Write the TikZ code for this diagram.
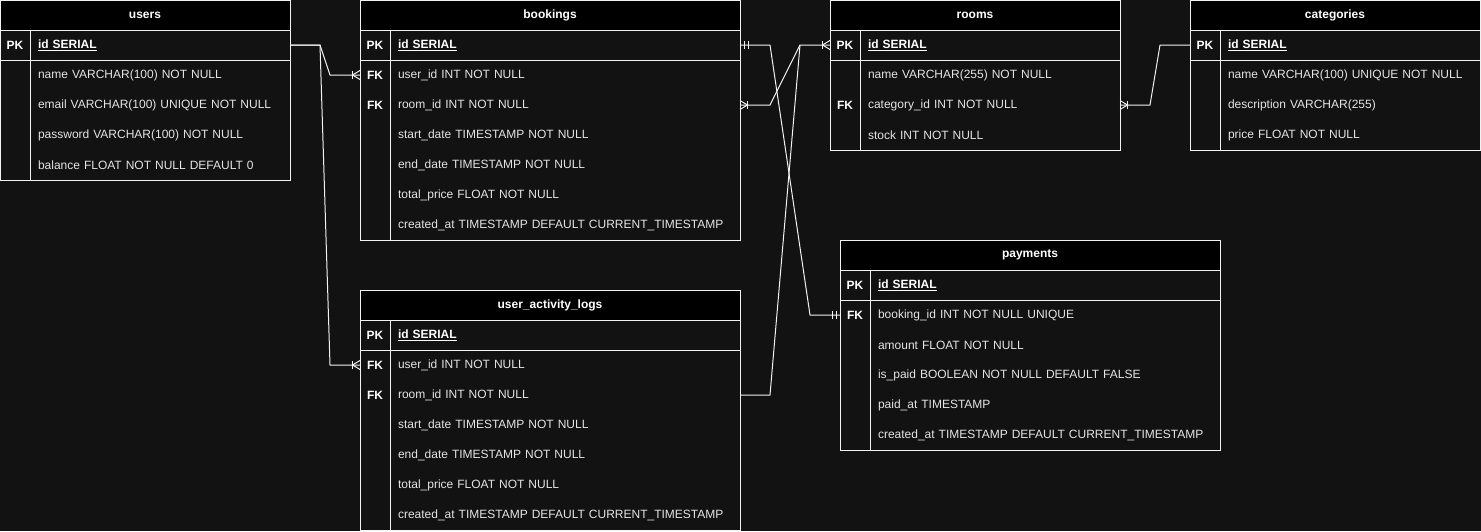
\documentclass[tikz,border=0pt]{standalone}
\usepackage{fontspec}
\setmainfont{Liberation Sans}
\usetikzlibrary{positioning}
\definecolor{erBack}{HTML}{121212}
\definecolor{erHead}{HTML}{000000}
\definecolor{erLine}{HTML}{F2F2F2}
\definecolor{erText}{HTML}{E4E4E4}
\tikzset{
  every picture/.style={font=\fontsize{12pt}{14pt}\selectfont, text=erText},
  er head/.style={fill=erHead, text=white, font=\fontsize{12pt}{14pt}\selectfont\bfseries,
    minimum height=30pt, inner sep=0pt, outer sep=0pt},
  er field/.style={minimum height=30pt, inner xsep=8pt, inner ysep=0pt, outer sep=0pt, align=left},
  er narrow/.style={er field, text width=244pt},
  er wide/.style={er field, text width=334pt},
  er key/.style={minimum width=30pt, minimum height=30pt, inner sep=0pt, outer sep=0pt,
    text=white, font=\fontsize{12pt}{14pt}\selectfont\bfseries},
  er frame/.style={draw=erLine, line width=1pt},
  er link/.style={draw=erLine, line width=1pt},
  crow/.pic={
    \draw[er link] (-7.5,-4) -- (-7.5,4);
    \draw[er link] (0,-4.5) -- (-7.5,0) -- (0,4.5);
  },
  one/.pic={
    \draw[er link] (-4,-4) -- (-4,4) (-8,-4) -- (-8,4);
  }
}
\newcommand{\pkey}[1]{\textcolor{white}{\bfseries\underline{#1}}}

\begin{document}
\begin{tikzpicture}[x=1pt,y=-1pt]
  \fill[erBack] (0,0) rectangle (1481,531);
  \useasboundingbox (0,0) rectangle (1481,531);

  % users
  \node[er head, minimum width=290pt] (users) at (145,15) {users};
  \node[er narrow, below right=0pt and 30pt of users.south west] (users-id) {\pkey{id SERIAL}};
  \node[er narrow, below=0pt of users-id] (users-name) {name VARCHAR(100) NOT NULL};
  \node[er narrow, below=0pt of users-name] (users-email) {email VARCHAR(100) UNIQUE NOT NULL};
  \node[er narrow, below=0pt of users-email] (users-password) {password VARCHAR(100) NOT NULL};
  \node[er narrow, below=0pt of users-password] (users-balance) {balance FLOAT NOT NULL DEFAULT 0};
  \node[er key, left=0pt of users-id] (users-pk) {PK};
  \draw[er frame] (users.north west) rectangle (users-balance.south east);
  \draw[er frame] (users.south west) -- (users.south east);
  \draw[er frame] (users-pk.south west) -- (users-id.south east);
  \draw[er frame] (users-id.north west) -- (users-balance.south west);

  % bookings
  \node[er head, minimum width=380pt] (bookings) at (550,15) {bookings};
  \node[er wide, below right=0pt and 30pt of bookings.south west] (bookings-id) {\pkey{id SERIAL}};
  \node[er wide, below=0pt of bookings-id] (bookings-userid) {user\_id INT NOT NULL};
  \node[er wide, below=0pt of bookings-userid] (bookings-roomid) {room\_id INT NOT NULL};
  \node[er wide, below=0pt of bookings-roomid] (bookings-start) {start\_date TIMESTAMP NOT NULL};
  \node[er wide, below=0pt of bookings-start] (bookings-end) {end\_date TIMESTAMP NOT NULL};
  \node[er wide, below=0pt of bookings-end] (bookings-total) {total\_price FLOAT NOT NULL};
  \node[er wide, below=0pt of bookings-total] (bookings-created) {created\_at TIMESTAMP DEFAULT CURRENT\_TIMESTAMP};
  \node[er key, left=0pt of bookings-id] (bookings-pk) {PK};
  \node[er key, left=0pt of bookings-userid] {FK};
  \node[er key, left=0pt of bookings-roomid] {FK};
  \draw[er frame] (bookings.north west) rectangle (bookings-created.south east);
  \draw[er frame] (bookings.south west) -- (bookings.south east);
  \draw[er frame] (bookings-pk.south west) -- (bookings-id.south east);
  \draw[er frame] (bookings-id.north west) -- (bookings-created.south west);

  % rooms
  \node[er head, minimum width=290pt] (rooms) at (975,15) {rooms};
  \node[er narrow, below right=0pt and 30pt of rooms.south west] (rooms-id) {\pkey{id SERIAL}};
  \node[er narrow, below=0pt of rooms-id] (rooms-name) {name VARCHAR(255) NOT NULL};
  \node[er narrow, below=0pt of rooms-name] (rooms-categoryid) {category\_id INT NOT NULL};
  \node[er narrow, below=0pt of rooms-categoryid] (rooms-stock) {stock INT NOT NULL};
  \node[er key, left=0pt of rooms-id] (rooms-pk) {PK};
  \node[er key, left=0pt of rooms-categoryid] {FK};
  \draw[er frame] (rooms.north west) rectangle (rooms-stock.south east);
  \draw[er frame] (rooms.south west) -- (rooms.south east);
  \draw[er frame] (rooms-pk.south west) -- (rooms-id.south east);
  \draw[er frame] (rooms-id.north west) -- (rooms-stock.south west);

  % categories
  \node[er head, minimum width=290pt] (categories) at (1335,15) {categories};
  \node[er narrow, below right=0pt and 30pt of categories.south west] (categories-id) {\pkey{id SERIAL}};
  \node[er narrow, below=0pt of categories-id] (categories-name) {name VARCHAR(100) UNIQUE NOT NULL};
  \node[er narrow, below=0pt of categories-name] (categories-desc) {description VARCHAR(255)};
  \node[er narrow, below=0pt of categories-desc] (categories-price) {price FLOAT NOT NULL};
  \node[er key, left=0pt of categories-id] (categories-pk) {PK};
  \draw[er frame] (categories.north west) rectangle (categories-price.south east);
  \draw[er frame] (categories.south west) -- (categories.south east);
  \draw[er frame] (categories-pk.south west) -- (categories-id.south east);
  \draw[er frame] (categories-id.north west) -- (categories-price.south west);

  % payments
  \node[er head, minimum width=380pt] (payments) at (1030,255) {payments};
  \node[er wide, below right=0pt and 30pt of payments.south west] (payments-id) {\pkey{id SERIAL}};
  \node[er wide, below=0pt of payments-id] (payments-bookingid) {booking\_id INT NOT NULL UNIQUE};
  \node[er wide, below=0pt of payments-bookingid] (payments-amount) {amount FLOAT NOT NULL};
  \node[er wide, below=0pt of payments-amount] (payments-ispaid) {is\_paid BOOLEAN NOT NULL DEFAULT FALSE};
  \node[er wide, below=0pt of payments-ispaid] (payments-paidat) {paid\_at TIMESTAMP};
  \node[er wide, below=0pt of payments-paidat] (payments-created) {created\_at TIMESTAMP DEFAULT CURRENT\_TIMESTAMP};
  \node[er key, left=0pt of payments-id] (payments-pk) {PK};
  \node[er key, left=0pt of payments-bookingid] {FK};
  \draw[er frame] (payments.north west) rectangle (payments-created.south east);
  \draw[er frame] (payments.south west) -- (payments.south east);
  \draw[er frame] (payments-pk.south west) -- (payments-id.south east);
  \draw[er frame] (payments-id.north west) -- (payments-created.south west);

  % user_activity_logs
  \node[er head, minimum width=380pt] (logs) at (550,305) {user\_activity\_logs};
  \node[er wide, below right=0pt and 30pt of logs.south west] (logs-id) {\pkey{id SERIAL}};
  \node[er wide, below=0pt of logs-id] (logs-userid) {user\_id INT NOT NULL};
  \node[er wide, below=0pt of logs-userid] (logs-roomid) {room\_id INT NOT NULL};
  \node[er wide, below=0pt of logs-roomid] (logs-start) {start\_date TIMESTAMP NOT NULL};
  \node[er wide, below=0pt of logs-start] (logs-end) {end\_date TIMESTAMP NOT NULL};
  \node[er wide, below=0pt of logs-end] (logs-total) {total\_price FLOAT NOT NULL};
  \node[er wide, below=0pt of logs-total] (logs-created) {created\_at TIMESTAMP DEFAULT CURRENT\_TIMESTAMP};
  \node[er key, left=0pt of logs-id] (logs-pk) {PK};
  \node[er key, left=0pt of logs-userid] {FK};
  \node[er key, left=0pt of logs-roomid] {FK};
  \draw[er frame] (logs.north west) rectangle (logs-created.south east);
  \draw[er frame] (logs.south west) -- (logs.south east);
  \draw[er frame] (logs-pk.south west) -- (logs-id.south east);
  \draw[er frame] (logs-id.north west) -- (logs-created.south west);

  % relations
  \draw[er link] (users-id.east) -- ++(30,0) -- ([xshift=-30pt]bookings.west |- bookings-userid) -- (bookings.west |- bookings-userid);
  \draw[er link] (users-id.east) -- ++(30,0) -- ([xshift=-30pt]logs.west |- logs-userid) -- (logs.west |- logs-userid);
  \draw[er link] (bookings-id.east) -- ++(30,0) -- ([xshift=-30pt]payments.west |- payments-bookingid) -- (payments.west |- payments-bookingid);
  \draw[er link] (bookings-roomid.east) -- ++(30,0) -- ([xshift=-30pt]rooms.west |- rooms-id) -- (rooms.west |- rooms-id);
  \draw[er link] (logs-roomid.east) -- ++(30,0) -- ([xshift=-30pt]rooms.west |- rooms-id);
  \draw[er link] (categories.west |- categories-id) -- ++(-30,0) -- ([xshift=30pt]rooms-categoryid.east) -- (rooms-categoryid.east);

  \pic at (bookings.west |- bookings-userid) {crow};
  \pic at (logs.west |- logs-userid) {crow};
  \pic at (rooms.west |- rooms-id) {crow};
  \pic[xscale=-1] at (bookings-roomid.east) {crow};
  \pic[xscale=-1] at (rooms-categoryid.east) {crow};
  \pic[xscale=-1] at (bookings-id.east) {one};
  \pic at (payments.west |- payments-bookingid) {one};
\end{tikzpicture}
\end{document}
